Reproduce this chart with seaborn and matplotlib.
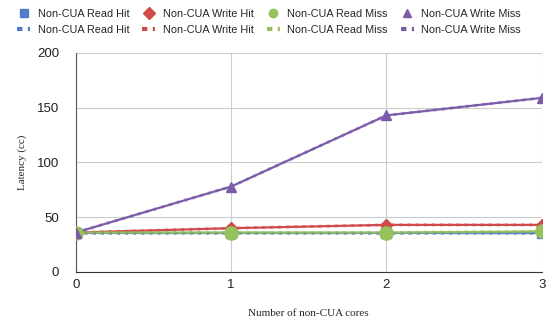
import pandas as pd
import matplotlib.pyplot as plt
import seaborn as sns
from matplotlib.lines import Line2D

# data
cores = [0, 1, 2, 3]
read_hit = [36, 36, 36, 36]
write_hit = [36, 40, 43, 43]
read_miss = [36, 36, 36, 37]
write_miss = [36, 78, 143, 159]

names = ["Non-CUA Read Hit", "Non-CUA Write Hit", "Non-CUA Read Miss", "Non-CUA Write Miss"]
series = [read_hit, write_hit, read_miss, write_miss]
colors = ["#4f7ec6", "#d04a4a", "#96c15c", "#7c5ca8"]
markers = ["s", "D", "o", "^"]
sizes = [6.5, 6.5, 9.5, 7.5]

rows = []
for n, vals in zip(names, series):
    for c, v in zip(cores, vals):
        rows.append({"cores": c, "latency": v, "series": n})
df = pd.DataFrame(rows)

sns.set_style("white")
plt.rcParams["font.family"] = ["Liberation Sans", "DejaVu Sans"]

fig = plt.figure(figsize=(5.49, 3.23), dpi=100)
ax = fig.add_axes([0.138, 0.158, 0.849, 0.678])

# solid connecting lines with a dotted overlay (the "trend" series)
sns.lineplot(data=df, x="cores", y="latency", hue="series", palette=colors,
             hue_order=names, linewidth=1.6, legend=False, ax=ax, zorder=2)
sns.lineplot(data=df, x="cores", y="latency", hue="series", palette=colors,
             hue_order=names, linewidth=2.2, linestyle=":", alpha=0.6,
             legend=False, ax=ax, zorder=2)
for n, col, m, s in zip(names, colors, markers, sizes):
    d = df[df["series"] == n]
    ax.plot(d["cores"], d["latency"], linestyle="none", marker=m, ms=s,
            color=col, zorder=3)

ax.set_xlim(0, 3)
ax.set_ylim(0, 200)
ax.set_xticks([0, 1, 2, 3])
ax.set_yticks([0, 50, 100, 150, 200])
ax.grid(True, color="#cccccc", linewidth=0.8)
ax.set_axisbelow(True)
for sp in ["top", "right"]:
    ax.spines[sp].set_visible(False)
ax.spines["left"].set_color("#555555")
ax.spines["bottom"].set_color("#333333")
ax.tick_params(axis="y", length=9, color="#cccccc", labelsize=9.5, labelcolor="#222222", pad=3)
ax.tick_params(axis="x", length=0, labelsize=9.5, labelcolor="#222222", pad=5)

ax.set_xlabel("Number of non-CUA cores", family="Liberation Serif", fontsize=8, labelpad=13)
ax.set_ylabel("Latency (cc)", family="Liberation Serif", fontsize=8, labelpad=7)

handles, labels = [], []
for n, col, m in zip(names, colors, markers):
    handles.append(Line2D([], [], linestyle="none", marker=m, ms=6, color=col))
    labels.append(n)
    handles.append(Line2D([], [], linestyle=(0, (1.3, 1.3)), lw=3, color=col,
                          dash_capstyle="butt"))
    labels.append(n)
fig.legend(handles, labels, ncol=4, loc="upper center", bbox_to_anchor=(0.49, 0.993),
           frameon=False, fontsize=7.8, handlelength=1.2, handletextpad=0.7,
           columnspacing=1.2, labelspacing=0.6, borderaxespad=0.2)

fig.savefig("out.png", dpi=100)
